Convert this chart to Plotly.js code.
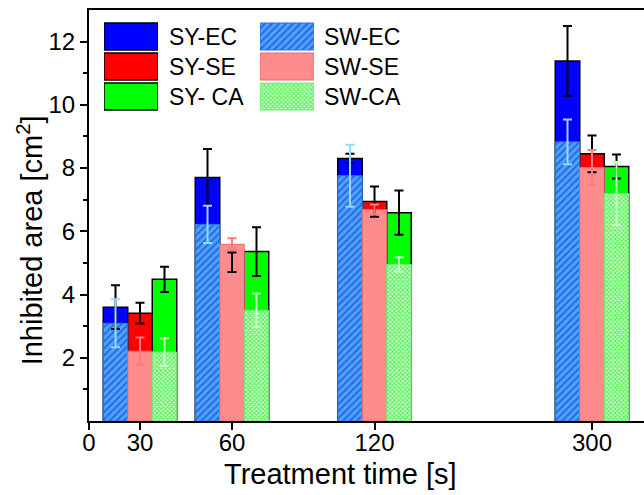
<!DOCTYPE html>
<html>
<head>
<meta charset="utf-8">
<script src="https://cdn.plot.ly/plotly-3.0.1.min.js"></script>
<style>html,body{margin:0;padding:0;background:#fff;}#chart{width:644px;height:495px;}</style>
</head>
<body>
<div id="chart"></div>
<script>
// ---- data ----
const times = ["30", "60", "120", "300"];
const syEC = [3.60, 7.70, 8.30, 11.39];
const syECerr = [0.69, 0.90, 0.15, 1.10];
const swEC = [3.09, 6.22, 7.76, 8.83];
const swECerr = [0.76, 0.59, 0.98, 0.71];
const sySE = [3.41, 5.02, 6.94, 8.45];
const sySEerr = [0.33, 0.31, 0.48, 0.58];
const swSE = [2.21, 5.59, 6.69, 8.02];
const swSEerr = [0.43, 0.19, 0.16, 0.55];
const syCA = [4.48, 5.36, 6.59, 8.05];
const syCAerr = [0.40, 0.77, 0.70, 0.38];
const swCA = [2.18, 3.50, 4.95, 7.19];
const swCAerr = [0.44, 0.53, 0.23, 1.00];
const tickLabels = ["0", "30", "60", "120", "300"];
const xTitle = "Treatment time [s]";
const yTitle = "Inhibited area [cm<sup>2</sup>]";

// ---- layout constants (axis units) ----
const tickPos = [0, 51, 143, 285.5, 503];   // uneven category positions on the time axis
const catPos = tickPos.slice(1);
const W = 24.5;                              // bar width
const FONT = "Liberation Sans, Arial, sans-serif";

const styles = {
  syEC: {color: "#0000ff", line: "#000000"},
  sySE: {color: "#ff0000", line: "#000000"},
  syCA: {color: "#00ff00", line: "#000000"},
  swEC: {color: "#4ea2ff", line: "#2f6fe6", pattern: {shape: "/", fgcolor: "#2466e0", bgcolor: "#4ea2ff", size: 5, solidity: 0.35}},
  swSE: {color: "#ff8c8c", line: "#e86a6a"},
  swCA: {color: "#bfffbf", line: "#70ee70", pattern: {shape: "x", fgcolor: "#55ec55", bgcolor: "#c8ffc8", size: 3, solidity: 0.5}}
};

function barTrace(vals, st, off, lw) {
  const m = {color: st.color, line: {color: st.line, width: lw}};
  if (st.pattern) m.pattern = st.pattern;
  return {type: "bar", x: catPos, y: vals, width: W, offset: off * W, marker: m,
          showlegend: false, hoverinfo: "skip"};
}
function errTrace(vals, errs, shift, color) {
  return {type: "scatter", mode: "markers", x: catPos.map(p => p + shift * W), y: vals,
          marker: {size: 1, color: "rgba(0,0,0,0)"},
          error_y: {type: "data", array: errs, visible: true, color: color, thickness: 2, width: 4.5},
          showlegend: false, hoverinfo: "skip"};
}

const traces = [
  barTrace(syEC, styles.syEC, -1.5, 1.5),
  barTrace(sySE, styles.sySE, -0.5, 1.5),
  barTrace(syCA, styles.syCA, 0.5, 1.5),
  barTrace(swEC, styles.swEC, -1.5, 1),
  barTrace(swSE, styles.swSE, -0.5, 1),
  barTrace(swCA, styles.swCA, 0.5, 1),
  errTrace(syEC, syECerr, -1, "#000000"),
  errTrace(sySE, sySEerr, 0, "#000000"),
  errTrace(syCA, syCAerr, 1, "#000000"),
  errTrace(swEC, swECerr, -1, "#9ad8f7"),
  errTrace(swSE, swSEerr, 0, "#ff7a7a"),
  errTrace(swCA, swCAerr, 1, "#c4ffc4")
];

// ---- legend (swatches drawn as bars on small auxiliary axes) ----
const legSY = ["SY-EC", "SY-SE", "SY- CA"];
const legSW = ["SW-EC", "SW-SE", "SW-CA"];
const legSYst = [styles.syEC, styles.sySE, styles.syCA];
const legSWst = [styles.swEC, styles.swSE, styles.swCA];
function swatch(st, row, xa, lw) {
  const m = {color: st.color, line: {color: st.line, width: lw}};
  if (st.pattern) m.pattern = st.pattern;
  return {type: "bar", orientation: "h", y: [row], x: [1], base: 0, width: 0.9,
          xaxis: xa, yaxis: "y2", marker: m, showlegend: false, hoverinfo: "skip"};
}
legSYst.forEach((st, i) => traces.push(swatch(st, i + 1, "x2", 1.5)));
legSWst.forEach((st, i) => traces.push(swatch(st, i + 1, "x3", 1)));

const legTop = 0.9720, legBot = 0.7530;
const rowY = r => legTop - (r - 0.5) * (legTop - legBot) / 3;
const annotations = [];
legSY.forEach((t, i) => annotations.push({xref: "paper", yref: "paper", x: 0.1405, y: rowY(i + 1),
  xanchor: "left", yanchor: "middle", text: t, showarrow: false, font: {family: FONT, size: 23, color: "#000"}}));
legSW.forEach((t, i) => annotations.push({xref: "paper", yref: "paper", x: 0.4198, y: rowY(i + 1),
  xanchor: "left", yanchor: "middle", text: t, showarrow: false, font: {family: FONT, size: 23, color: "#000"}}));
// axis titles (placed as in the reference, slightly off-centre)
annotations.push({xref: "paper", yref: "paper", x: 0.4523, y: -0.128, xanchor: "center", yanchor: "middle",
  text: xTitle, showarrow: false, font: {family: FONT, size: 29, color: "#000"}});
annotations.push({xref: "paper", yref: "paper", x: -0.106, y: 0.44, xanchor: "center", yanchor: "middle",
  textangle: -90, text: yTitle, showarrow: false, font: {family: FONT, size: 29, color: "#000"}});

const layout = {
  width: 644, height: 495,
  margin: {l: 89, r: 0, t: 10, b: 74, pad: 0},
  paper_bgcolor: "#fff", plot_bgcolor: "#fff",
  barmode: "overlay",
  hovermode: false,
  showlegend: false,
  font: {family: FONT, color: "#000"},
  xaxis: {
    range: [0, 555], tickmode: "array", tickvals: tickPos, ticktext: tickLabels,
    ticks: "outside", ticklen: 7, tickwidth: 2, tickcolor: "#000",
    ticklabelstandoff: -8,
    showline: true, linecolor: "#000", linewidth: 2, mirror: true,
    showgrid: false, zeroline: false,
    tickfont: {family: FONT, size: 24, color: "#000"},
    automargin: false
  },
  yaxis: {
    range: [0, 13], tickmode: "array", tickvals: [2, 4, 6, 8, 10, 12],
    ticks: "outside", ticklen: 7, tickwidth: 2, tickcolor: "#000",
    minor: {tickvals: [1, 3, 5, 7, 9, 11], ticks: "outside", ticklen: 4, tickwidth: 2, tickcolor: "#000"},
    showline: true, linecolor: "#000", linewidth: 2, mirror: false,
    showgrid: false, zeroline: false,
    tickfont: {family: FONT, size: 24, color: "#000"},
    automargin: false
  },
  xaxis2: {domain: [0.027, 0.1243], range: [0, 1], anchor: "y2", visible: false, fixedrange: true},
  xaxis3: {domain: [0.3081, 0.4054], range: [0, 1], anchor: "y2", visible: false, fixedrange: true},
  yaxis2: {domain: [legBot, legTop], range: [3.5, 0.5], anchor: "x2", visible: false, fixedrange: true},
  annotations: annotations
};

Plotly.newPlot("chart", traces, layout, {displayModeBar: false, staticPlot: true});
</script>
</body>
</html>
